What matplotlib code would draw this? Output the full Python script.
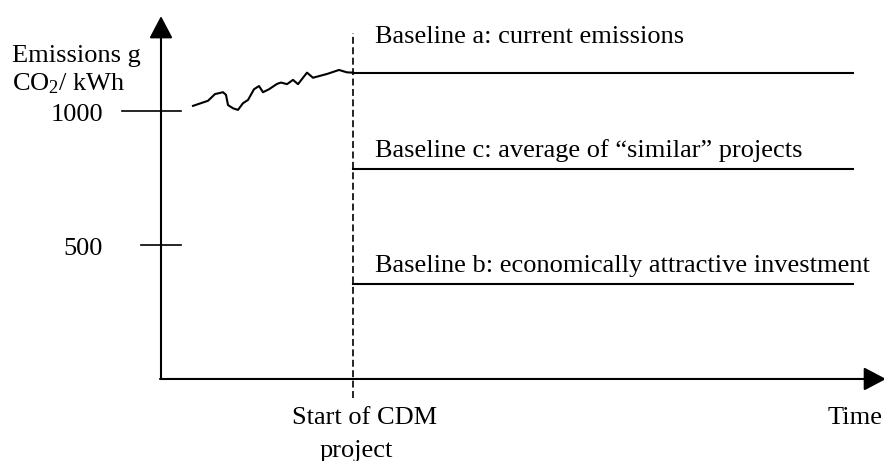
import matplotlib
matplotlib.use("Agg")
import matplotlib.pyplot as plt
from matplotlib.patches import FancyArrowPatch

plt.rcParams['font.family'] = ['Liberation Serif', 'DejaVu Serif']
plt.rcParams['mathtext.fontset'] = 'custom'
plt.rcParams['mathtext.rm'] = 'Liberation Serif'
plt.rcParams['mathtext.it'] = 'Liberation Serif:italic'
plt.rcParams['lines.scale_dashes'] = False

# ---- data (time in arbitrary units, emissions in g CO2/kWh) ----
hist_time = [32, 47, 54, 62, 65, 67, 72, 77, 82, 87, 93, 98, 102, 108,
             116, 120, 126, 132, 137, 146, 152, 166, 178, 186, 192]
hist_emis = [1019, 1038, 1063, 1070, 1060, 1022, 1010, 1004, 1029, 1041,
             1081, 1093, 1070, 1081, 1101, 1106, 1100, 1116, 1100, 1143,
             1124, 1138, 1153, 1144, 1143]
project_start = 192
horizon_end = 692
baseline_names = ["Baseline a: current emissions",
                  "Baseline c: average of \u201csimilar\u201d projects",
                  "Baseline b: economically attractive investment"]
baseline_values = [1143, 784, 354]
tick_values = [500, 1000]
tick_labels = ["500", "1000"]

fig = plt.figure(figsize=(8.84, 4.61), dpi=100)
ax = fig.add_axes([0, 0, 1, 1])
ax.set_xlim(-161, 723)
ax.set_ylim(-306, 1414)
ax.axis('off')

lw = 1.5
fs = 19

# axes with arrows
style = '-|>,head_length=1.37,head_width=0.72'
ya = FancyArrowPatch((0, 0), (0, 1354), arrowstyle=style,
                     mutation_scale=10, color='black', lw=lw, shrinkA=0, shrinkB=0)
xa = FancyArrowPatch((-1, 0), (725, 0), arrowstyle=style,
                     mutation_scale=10, color='black', lw=lw, shrinkA=0, shrinkB=0)
ax.add_patch(ya)
ax.add_patch(xa)

# y ticks
tick_left = {500: -20, 1000: -39}
for v, lab in zip(tick_values, tick_labels):
    ax.plot([tick_left[v], 20], [v, v], color='black', lw=1.2)
    ax.text(-58, v - 36, lab, ha='right', va='baseline', fontsize=fs)

ax.text(-149, 1184, "Emissions g", ha='left', va='baseline', fontsize=fs)
ax.text(-149, 1076, "CO$_{\\mathregular{2}}$/ kWh", ha='left', va='baseline', fontsize=fs)

# historical emissions
ax.plot(hist_time, hist_emis, color='black', lw=lw)

# dashed start line
ax.plot([project_start, project_start], [-71, 1291], color='black', lw=1.2,
        dashes=(5, 2.5))

# baselines
label_y = [1254, 829, 400]
for name, v, ly in zip(baseline_names, baseline_values, label_y):
    ax.plot([project_start, horizon_end], [v, v], color='black', lw=lw)
    ax.text(214, ly, name, ha='left', va='baseline', fontsize=fs)

ax.text(project_start + 12, -169, "Start of CDM", ha='center', va='baseline', fontsize=fs)
ax.text(project_start + 3, -290, "project", ha='center', va='baseline', fontsize=fs)
ax.text(694, -169, "Time", ha='center', va='baseline', fontsize=fs)

fig.savefig("out.png", dpi=100)
